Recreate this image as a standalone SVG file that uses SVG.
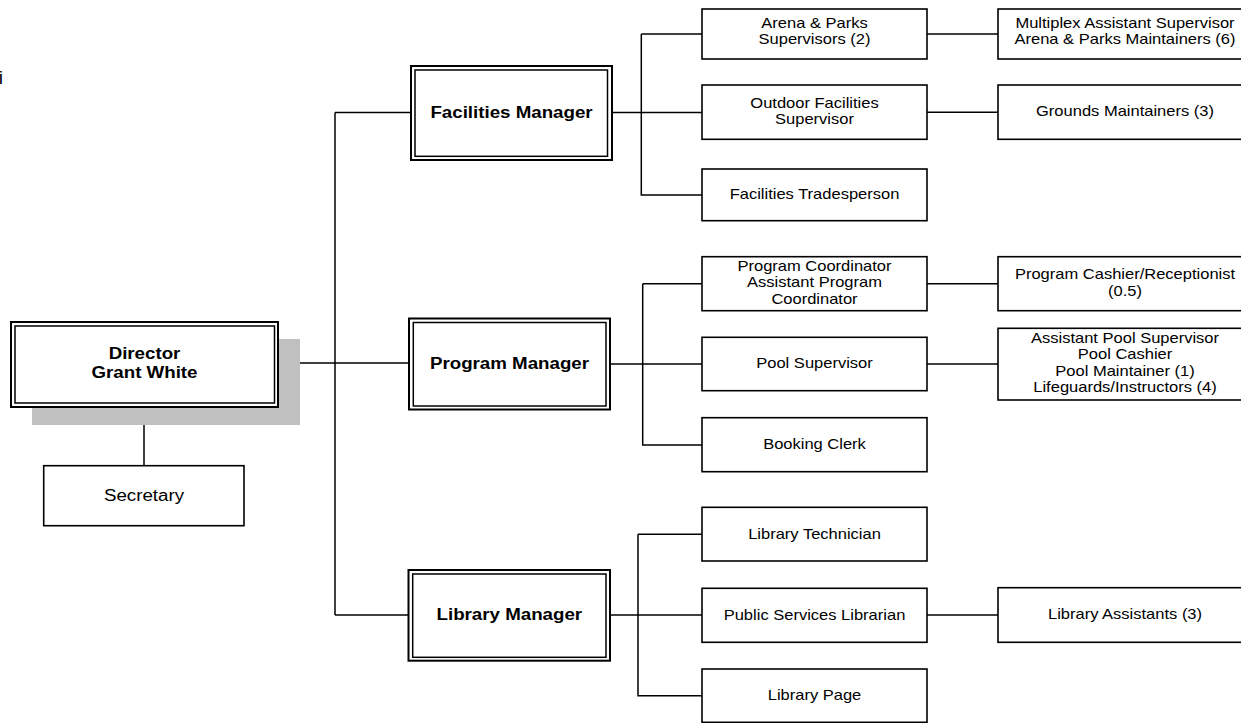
<svg xmlns="http://www.w3.org/2000/svg" width="1241" height="723" viewBox="0 0 1241 723">
<style>
  .bg { fill: #ffffff; }
  .box { fill: #ffffff; stroke: #000000; stroke-width: 1.6; }
  .outer { fill: #ffffff; stroke: #000000; stroke-width: 2; }
  .inner { fill: none; stroke: #000000; stroke-width: 1.5; }
  .shadow { fill: #c0c0c0; stroke: none; }
  .conn { fill: none; stroke: #000000; stroke-width: 1.5; }
  .t { font-family: "Liberation Sans", Arial, sans-serif; font-size: 14px; fill: #000000; text-anchor: middle; }
  .tb { font-family: "Liberation Sans", Arial, sans-serif; font-size: 15.6px; font-weight: bold; fill: #000000; text-anchor: middle; }
  .ts { font-family: "Liberation Sans", Arial, sans-serif; font-size: 15.6px; fill: #000000; text-anchor: middle; }
  .frag { font-family: "Liberation Sans", Arial, sans-serif; font-size: 19px; fill: #000000; }
</style>
<rect class="bg" x="0" y="0" width="1241" height="723"/>
<text class="frag" x="-1.3" y="84">i</text>

<g id="connectors">
  <path class="conn" d="M278 363 H409"/>
  <path class="conn" d="M335 112.5 V615"/>
  <path class="conn" d="M335 112.5 H411"/>
  <path class="conn" d="M335 615 H408.5"/>
  <path class="conn" d="M144 406.7 V465.7"/>
  <path class="conn" d="M612 112.5 H702"/>
  <path class="conn" d="M641.3 34 V195 H702"/>
  <path class="conn" d="M641.3 34 H702"/>
  <path class="conn" d="M927 34 H998"/>
  <path class="conn" d="M927 112.2 H998"/>
  <path class="conn" d="M610 364 H702"/>
  <path class="conn" d="M642.7 283.7 V445 H702"/>
  <path class="conn" d="M642.7 283.7 H702"/>
  <path class="conn" d="M927 283.7 H998"/>
  <path class="conn" d="M927 364 H998"/>
  <path class="conn" d="M610 615 H702"/>
  <path class="conn" d="M638 534.3 V695.7 H702"/>
  <path class="conn" d="M638 534.3 H702"/>
  <path class="conn" d="M927 615 H998"/>
</g>

<g id="director">
  <rect class="shadow" x="32" y="339" width="268" height="86"/>
  <rect class="outer" x="11" y="322" width="267" height="85"/>
  <rect class="inner" x="15" y="326" width="259.5" height="77"/>
  <text class="tb" transform="translate(144.5 0) scale(1.2 1)"><tspan x="0" y="359">Director</tspan><tspan x="0" y="377.7">Grant White</tspan></text>
</g>

<g id="secretary">
  <rect class="box" x="43.7" y="465.7" width="200.3" height="60"/>
  <text class="ts" transform="translate(144 0) scale(1.2 1)" x="0" y="501.5">Secretary</text>
</g>

<g id="facilities-manager">
  <rect class="outer" x="411" y="66" width="201" height="94"/>
  <rect class="inner" x="415" y="70" width="192.5" height="86.3"/>
  <text class="tb" transform="translate(511.5 0) scale(1.2 1)" x="0" y="117.7">Facilities Manager</text>
</g>

<g id="program-manager">
  <rect class="outer" x="409" y="318.5" width="201" height="91"/>
  <rect class="inner" x="413.3" y="322.5" width="192.7" height="83.5"/>
  <text class="tb" transform="translate(509.5 0) scale(1.2 1)" x="0" y="369">Program Manager</text>
</g>

<g id="library-manager">
  <rect class="outer" x="408.5" y="570" width="201.5" height="90.7"/>
  <rect class="inner" x="412.7" y="574" width="193.3" height="83.3"/>
  <text class="tb" transform="translate(509.3 0) scale(1.2 1)" x="0" y="620.5">Library Manager</text>
</g>

<g id="arena-parks-supervisors">
  <rect class="box" x="702" y="9" width="225" height="50"/>
  <text class="t" transform="translate(814.5 0) scale(1.18 1)"><tspan x="0" y="27.8">Arena &amp; Parks</tspan><tspan x="0" y="44.3">Supervisors (2)</tspan></text>
</g>

<g id="outdoor-facilities-supervisor">
  <rect class="box" x="702" y="85" width="225" height="54.3"/>
  <text class="t" transform="translate(814.5 0) scale(1.18 1)"><tspan x="0" y="108">Outdoor Facilities</tspan><tspan x="0" y="124.5">Supervisor</tspan></text>
</g>

<g id="facilities-tradesperson">
  <rect class="box" x="702" y="169" width="225" height="51.7"/>
  <text class="t" transform="translate(814.5 0) scale(1.18 1)" x="0" y="199.5">Facilities Tradesperson</text>
</g>

<g id="program-coordinator">
  <rect class="box" x="702" y="256.7" width="225" height="54"/>
  <text class="t" transform="translate(814.5 0) scale(1.18 1)"><tspan x="0" y="271">Program Coordinator</tspan><tspan x="0" y="287.5">Assistant Program</tspan><tspan x="0" y="304">Coordinator</tspan></text>
</g>

<g id="pool-supervisor">
  <rect class="box" x="702" y="337.3" width="225" height="53.4"/>
  <text class="t" transform="translate(814.5 0) scale(1.18 1)" x="0" y="368.5">Pool Supervisor</text>
</g>

<g id="booking-clerk">
  <rect class="box" x="702" y="417.7" width="225" height="54"/>
  <text class="t" transform="translate(814.5 0) scale(1.18 1)" x="0" y="449.2">Booking Clerk</text>
</g>

<g id="library-technician">
  <rect class="box" x="702" y="507.3" width="225" height="53.7"/>
  <text class="t" transform="translate(814.5 0) scale(1.18 1)" x="0" y="538.7">Library Technician</text>
</g>

<g id="public-services-librarian">
  <rect class="box" x="702" y="588.3" width="225" height="54"/>
  <text class="t" transform="translate(814.5 0) scale(1.18 1)" x="0" y="619.8">Public Services Librarian</text>
</g>

<g id="library-page">
  <rect class="box" x="702" y="669" width="225" height="53.3"/>
  <text class="t" transform="translate(814.5 0) scale(1.18 1)" x="0" y="700.2">Library Page</text>
</g>

<g id="multiplex-assistant-supervisor">
  <rect class="box" x="998" y="9" width="254" height="50"/>
  <text class="t" transform="translate(1125 0) scale(1.18 1)"><tspan x="0" y="27.8">Multiplex Assistant Supervisor</tspan><tspan x="0" y="44.3">Arena &amp; Parks Maintainers (6)</tspan></text>
</g>

<g id="grounds-maintainers">
  <rect class="box" x="998" y="85" width="254" height="54.3"/>
  <text class="t" transform="translate(1125 0) scale(1.18 1)" x="0" y="116.5">Grounds Maintainers (3)</text>
</g>

<g id="program-cashier">
  <rect class="box" x="998" y="256.7" width="254" height="54"/>
  <text class="t" transform="translate(1125 0) scale(1.18 1)"><tspan x="0" y="279.5">Program Cashier/Receptionist</tspan><tspan x="0" y="296">(0.5)</tspan></text>
</g>

<g id="pool-staff">
  <rect class="box" x="998" y="328.3" width="254" height="71.7"/>
  <text class="t" transform="translate(1125 0) scale(1.18 1)"><tspan x="0" y="343">Assistant Pool Supervisor</tspan><tspan x="0" y="359.5">Pool Cashier</tspan><tspan x="0" y="376">Pool Maintainer (1)</tspan><tspan x="0" y="392.5">Lifeguards/Instructors (4)</tspan></text>
</g>

<g id="library-assistants">
  <rect class="box" x="998" y="587.7" width="254" height="54.6"/>
  <text class="t" transform="translate(1125 0) scale(1.18 1)" x="0" y="619.5">Library Assistants (3)</text>
</g>
</svg>
